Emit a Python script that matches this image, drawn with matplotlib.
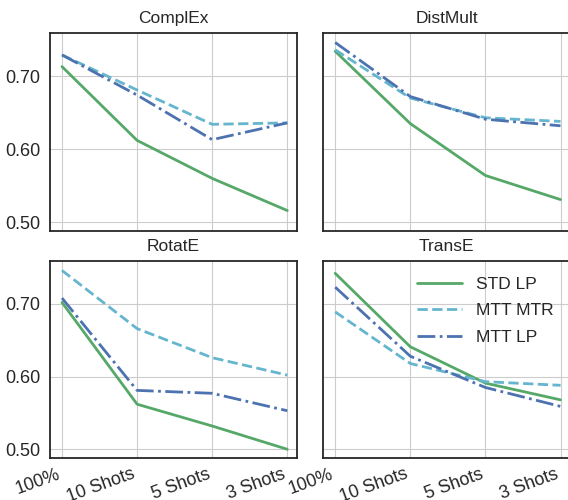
import matplotlib.pyplot as plt
import seaborn as sns
from matplotlib.ticker import FormatStrFormatter

sns.set_style("whitegrid")
plt.rcParams['font.family'] = ['Liberation Sans', 'DejaVu Sans']

shots = ["100%", "10 Shots", "5 Shots", "3 Shots"]
models = ["ComplEx", "DistMult", "RotatE", "TransE"]

std_lp = {
    "ComplEx": [0.713, 0.612, 0.560, 0.516],
    "DistMult": [0.734, 0.635, 0.564, 0.531],
    "RotatE": [0.702, 0.562, 0.532, 0.500],
    "TransE": [0.742, 0.641, 0.591, 0.568],
}
mtt_mtr = {
    "ComplEx": [0.729, 0.681, 0.634, 0.636],
    "DistMult": [0.736, 0.670, 0.643, 0.638],
    "RotatE": [0.746, 0.666, 0.626, 0.602],
    "TransE": [0.689, 0.618, 0.593, 0.588],
}
mtt_lp = {
    "ComplEx": [0.729, 0.674, 0.613, 0.636],
    "DistMult": [0.746, 0.672, 0.641, 0.632],
    "RotatE": [0.708, 0.581, 0.577, 0.553],
    "TransE": [0.723, 0.628, 0.585, 0.559],
}

fig = plt.figure(figsize=(5.68, 5.0), dpi=100)

# axes positions (left, bottom, width, height); right column runs off the edge
positions = [
    [0.088, 0.538, 0.435, 0.396],
    [0.569, 0.538, 0.435, 0.396],
    [0.088, 0.084, 0.435, 0.394],
    [0.569, 0.084, 0.435, 0.394],
]

x = list(range(len(shots)))
for i, (name, pos) in enumerate(zip(models, positions)):
    ax = fig.add_axes(pos)
    ax.plot(x, std_lp[name], color='#55A868', linestyle='-', lw=2, label='STD LP')
    ax.plot(x, mtt_mtr[name], color='#64B5CD', linestyle='--', lw=2, label='MTT MTR')
    ax.plot(x, mtt_lp[name], color='#4C72B0', linestyle='-.', lw=2, label='MTT LP')
    ax.set_title(name, fontsize=12.5, pad=7)
    ax.set_xlim(-0.16, 3.13)
    ax.set_ylim(0.488, 0.759)
    ax.set_yticks([0.50, 0.60, 0.70])
    ax.yaxis.set_major_formatter(FormatStrFormatter('%.2f'))
    ax.set_xticks(x)
    if i >= 2:
        ax.set_xticklabels(shots, rotation=20, ha='right', fontsize=13)
    else:
        ax.set_xticklabels([])
    if i % 2 == 1:
        ax.set_yticklabels([])
    ax.tick_params(axis='y', labelsize=13)
    ax.tick_params(axis='x', pad=2)
    for s in ax.spines.values():
        s.set_color('#262626')
        s.set_linewidth(1.3)
    if name == "TransE":
        ax.legend(loc='upper right', fontsize=12.5, frameon=False,
                  handlelength=2.6, labelspacing=0.65,
                  bbox_to_anchor=(0.995, 1.0))

plt.savefig("out.png", dpi=100)
